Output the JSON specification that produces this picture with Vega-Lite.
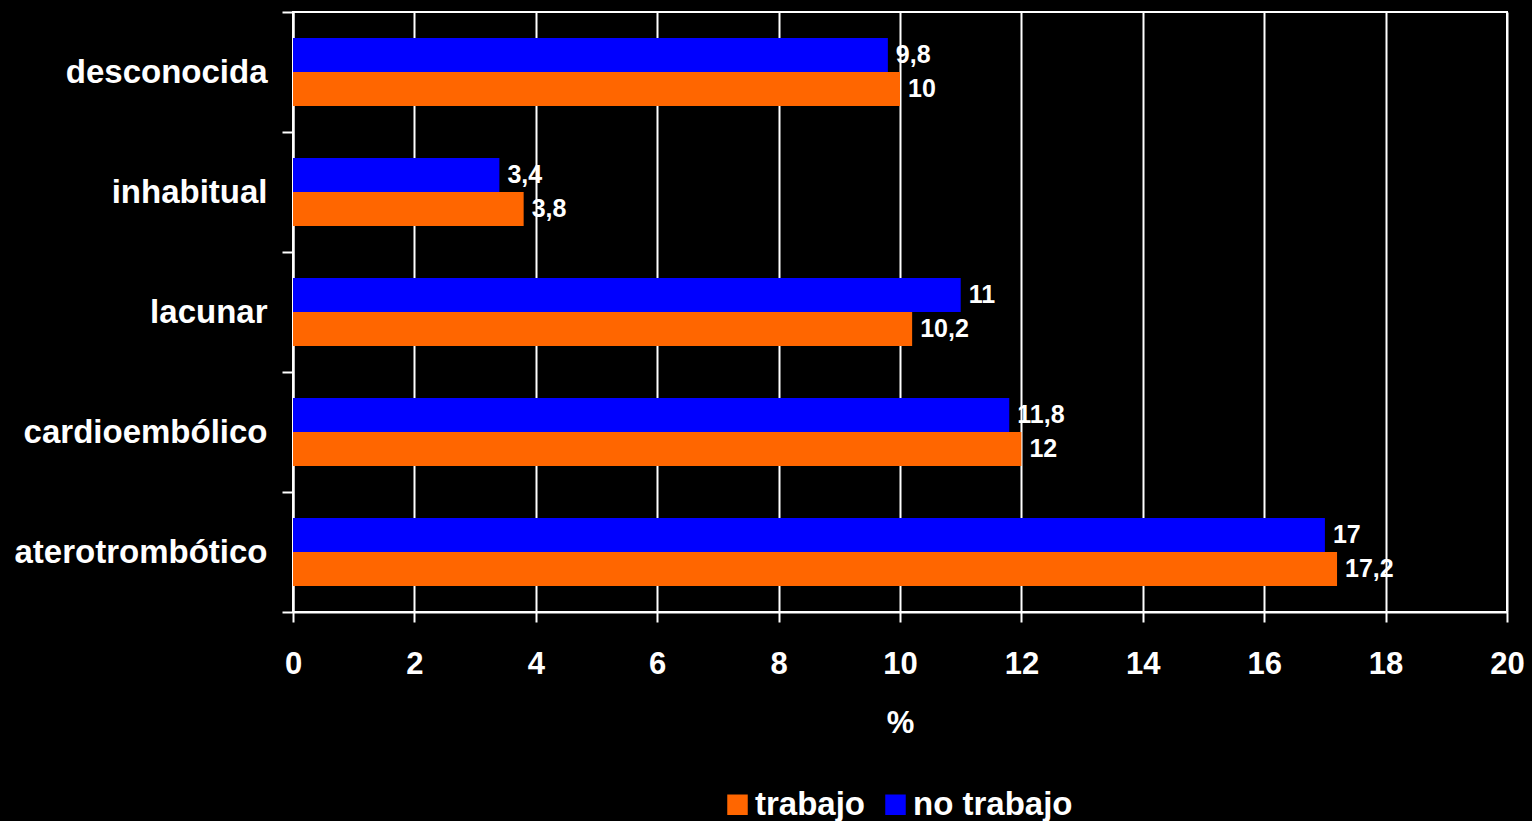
{
  "$schema": "https://vega.github.io/schema/vega-lite/v6.json",
  "width": 1214,
  "height": 600,
  "autosize": {"type": "none"},
  "padding": {"left": 293, "top": 12, "right": 25, "bottom": 209},
  "background": "#000000",
  "config": {
    "font": "Liberation Sans",
    "view": {"stroke": "#ffffff", "strokeWidth": 2},
    "axis": {"domainColor": "#ffffff", "tickColor": "#ffffff", "labelColor": "#ffffff", "titleColor": "#ffffff", "domainWidth": 2, "tickWidth": 2}
  },
  "data": {
    "values": [
      {"cause": "desconocida", "group": "no trabajo", "value": 9.8, "label": "9,8"},
      {"cause": "desconocida", "group": "trabajo", "value": 10, "label": "10"},
      {"cause": "inhabitual", "group": "no trabajo", "value": 3.4, "label": "3,4"},
      {"cause": "inhabitual", "group": "trabajo", "value": 3.8, "label": "3,8"},
      {"cause": "lacunar", "group": "no trabajo", "value": 11, "label": "11"},
      {"cause": "lacunar", "group": "trabajo", "value": 10.2, "label": "10,2"},
      {"cause": "cardioembólico", "group": "no trabajo", "value": 11.8, "label": "11,8"},
      {"cause": "cardioembólico", "group": "trabajo", "value": 12, "label": "12"},
      {"cause": "aterotrombótico", "group": "no trabajo", "value": 17, "label": "17"},
      {"cause": "aterotrombótico", "group": "trabajo", "value": 17.2, "label": "17,2"}
    ]
  },
  "encoding": {
    "y": {
      "field": "cause", "type": "nominal",
      "sort": ["desconocida", "inhabitual", "lacunar", "cardioembólico", "aterotrombótico"],
      "scale": {"paddingInner": 0, "paddingOuter": 0},
      "axis": {"title": null, "tickBand": "extent", "tickSize": 11, "labelPadding": 15, "labelFontSize": 33, "labelFontWeight": "bold", "labelLimit": 400, "grid": false}
    },
    "yOffset": {
      "field": "group", "type": "nominal",
      "sort": ["no trabajo", "trabajo"],
      "scale": {"paddingOuter": 0.765, "paddingInner": 0}
    },
    "x": {
      "field": "value", "type": "quantitative",
      "scale": {"domain": [0, 20], "nice": false},
      "axis": {"title": "%", "values": [0, 2, 4, 6, 8, 10, 12, 14, 16, 18, 20], "tickSize": 10, "labelPadding": 27, "labelFontSize": 31, "labelFontWeight": "bold", "titleFontSize": 31, "titleFontWeight": "bold", "titlePadding": 29, "grid": true, "gridColor": "#ffffff", "gridWidth": 2, "gridOpacity": 1, "labelFlush": false}
    }
  },
  "layer": [
    {
      "mark": {"type": "bar"},
      "encoding": {
        "color": {
          "field": "group", "type": "nominal",
          "scale": {"domain": ["trabajo", "no trabajo"], "range": ["#FF6600", "#0000FF"]},
          "legend": {
            "title": null, "orient": "none", "direction": "horizontal",
            "legendX": 428, "legendY": 776, "padding": 0,
            "symbolType": "square", "symbolSize": 420, "symbolStrokeWidth": 0, "symbolOpacity": 1,
            "labelFontSize": 33, "labelFontWeight": "bold", "labelColor": "#ffffff",
            "labelOffset": 1, "columnPadding": 13
          }
        }
      }
    },
    {
      "mark": {"type": "text", "align": "left", "baseline": "middle", "dx": 8, "color": "#ffffff", "fontSize": 25, "fontWeight": "bold"},
      "encoding": {"text": {"field": "label"}}
    }
  ]
}
